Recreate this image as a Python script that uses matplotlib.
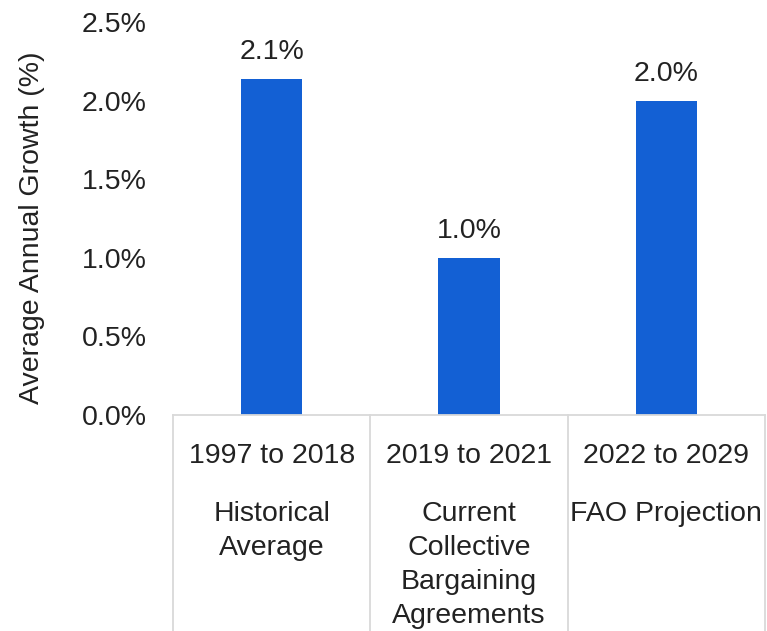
import numpy as np
import matplotlib.pyplot as plt
from matplotlib.ticker import FuncFormatter

plt.rcParams['font.family'] = ['Liberation Sans', 'DejaVu Sans']

# data
periods = ["1997 to 2018", "2019 to 2021", "2022 to 2029"]
descriptions = ["Historical\nAverage",
                "Current\nCollective\nBargaining\nAgreements",
                "FAO Projection"]
growth = [2.14, 1.0, 2.0]
growth_labels = ["2.1%", "1.0%", "2.0%"]

bar_color = "#1360D4"
line_color = "#D9D9D9"
text_color = "#222222"
fs = 20.5

fig = plt.figure(figsize=(7.67, 6.31), dpi=100)
ax = fig.add_axes([173 / 767, 216 / 631, 592 / 767, 393 / 631])

x = np.arange(len(periods))
ax.bar(x, growth, width=0.31, color=bar_color, zorder=2)

ax.set_xlim(-0.5, len(periods) - 0.5)
ax.set_ylim(0, 2.5)
ax.set_yticks(np.arange(0, 2.51, 0.5))
ax.yaxis.set_major_formatter(FuncFormatter(lambda v, p: f"{v:.1f}%"))
ax.tick_params(axis='y', length=0, pad=19, labelsize=fs, labelcolor=text_color)
ax.set_xticks([])

for s in ["top", "right", "left"]:
    ax.spines[s].set_visible(False)
ax.spines["bottom"].set_color(line_color)
ax.spines["bottom"].set_linewidth(1.3)

ax.set_ylabel("Average Annual Growth (%)", fontsize=fs, color=text_color)
ax.yaxis.set_label_coords(-0.217, 0.476)

# value labels
for xi, v, lab in zip(x, growth, growth_labels):
    ax.annotate(lab, (xi, v), xytext=(0, 10), textcoords="offset points",
                ha="center", va="bottom", fontsize=fs, color=text_color)

# multi-level category axis (Excel style)
trans = ax.get_xaxis_transform()
for b in np.arange(-0.5, len(periods), 1.0):
    ax.plot([b, b], [0, -0.7], transform=trans, color=line_color, lw=1.3,
            clip_on=False)
for xi, per, desc in zip(x, periods, descriptions):
    ax.text(xi, -0.104, per, transform=trans, ha="center", va="center",
            fontsize=fs, color=text_color)
    ax.text(xi, -0.219, desc, transform=trans, ha="center", va="top",
            fontsize=fs, color=text_color, linespacing=1.40)

fig.savefig("out.png", dpi=100)
